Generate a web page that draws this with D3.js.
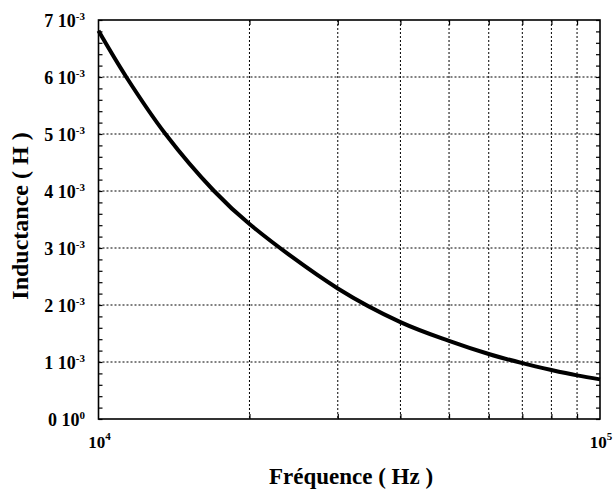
<!DOCTYPE html>
<html>
<head>
<meta charset="utf-8">
<script src="https://cdn.jsdelivr.net/npm/d3@7"></script>
<style>
  html, body { margin: 0; padding: 0; background: #fff; }
  svg { display: block; }
  text { font-family: "Liberation Serif", "Times New Roman", serif; font-weight: bold; fill: #000; }
</style>
</head>
<body>
<svg id="chart" width="613" height="492"></svg>
<script>
// ---- data ----
const frequency = [10000, 11360, 13600, 17000, 20000, 30000, 40000, 50000, 60000, 70000, 80000, 90000, 100000];
const inductance = [6.81e-3, 6.0e-3, 5.0e-3, 4.0e-3, 3.42e-3, 2.29e-3, 1.70e-3, 1.37e-3, 1.14e-3, 0.98e-3, 0.86e-3, 0.765e-3, 0.695e-3];

const yTickMantissa = [0, 1, 2, 3, 4, 5, 6, 7];
const yTickExponent = [0, -3, -3, -3, -3, -3, -3, -3];
const yTickValues = [0, 1e-3, 2e-3, 3e-3, 4e-3, 5e-3, 6e-3, 7e-3];
const yMinorValues = d3.range(0, 36).map(i => i * 0.2e-3);

const xTickBase = ["10", "10"];
const xTickExp = ["4", "5"];
const xTickValues = [1e4, 1e5];
const xGridValues = [2e4, 3e4, 4e4, 5e4, 6e4, 7e4, 8e4, 9e4];

const xTitle = "Fréquence ( Hz )";
const yTitle = "Inductance ( H )";

// ---- layout ----
const svg = d3.select("#chart");
const pLeft = 98.5, pRight = 600, pTop = 20, pBottom = 419;

const x = d3.scaleLog().domain([1e4, 1e5]).range([pLeft, pRight]);
const y = d3.scaleLinear().domain([0, 7e-3]).range([pBottom, pTop]);

// grid
const grid = svg.append("g").attr("stroke", "#000").attr("stroke-width", 1).attr("stroke-dasharray", "2,2");
grid.selectAll("line.h").data(yTickValues.filter(v => v > 0 && v < 7e-3)).join("line").attr("class", "h")
  .attr("x1", pLeft).attr("x2", pRight).attr("y1", d => y(d)).attr("y2", d => y(d));
grid.selectAll("line.v").data(xGridValues).join("line").attr("class", "v")
  .attr("y1", pTop).attr("y2", pBottom).attr("x1", d => x(d)).attr("x2", d => x(d));

// axes ticks (inward)
const axL = svg.append("g").attr("transform", `translate(${pLeft},0)`)
  .call(d3.axisLeft(y).tickValues(yMinorValues).tickSize(-4).tickFormat(""));
const axR = svg.append("g").attr("transform", `translate(${pRight},0)`)
  .call(d3.axisRight(y).tickValues(yMinorValues).tickSize(-4).tickFormat(""));
const axB = svg.append("g").attr("transform", `translate(0,${pBottom})`)
  .call(d3.axisBottom(x).tickValues(xGridValues).tickSize(-5).tickFormat(""));
const axT = svg.append("g").attr("transform", `translate(0,${pTop})`)
  .call(d3.axisTop(x).tickValues(xGridValues).tickSize(-5).tickFormat(""));
[axL, axR, axB, axT].forEach(g => {
  g.select(".domain").remove();
  g.selectAll("line").attr("stroke", "#000").attr("stroke-width", 1.2);
});

// frame
svg.append("rect").attr("x", pLeft).attr("y", pTop).attr("width", pRight - pLeft).attr("height", pBottom - pTop)
  .attr("fill", "none").attr("stroke", "#000").attr("stroke-width", 1.6);

// curve
const pts = frequency.map((f, i) => [f, inductance[i]]);
svg.append("path").datum(pts)
  .attr("fill", "none").attr("stroke", "#000").attr("stroke-width", 4).attr("stroke-linejoin", "round")
  .attr("d", d3.line().x(d => x(d[0])).y(d => y(d[1])).curve(d3.curveCatmullRom.alpha(0.5)));

// y tick labels
const yl = svg.append("g").selectAll("text").data(yTickValues).join("text")
  .attr("x", 85).attr("y", d => y(d) + 6.5).attr("text-anchor", "end").attr("font-size", 18);
yl.append("tspan").text((d, i) => yTickMantissa[i] + " 10");
yl.append("tspan").attr("dy", -7).attr("font-size", 11).text((d, i) => String(yTickExponent[i]));

// x tick labels
const xl = svg.append("g").selectAll("text").data(xTickValues).join("text")
  .attr("x", d => x(d) + 1).attr("y", 448).attr("text-anchor", "middle").attr("font-size", 17);
xl.append("tspan").text((d, i) => xTickBase[i]);
xl.append("tspan").attr("dy", -8).attr("font-size", 11).text((d, i) => xTickExp[i]);

// titles
svg.append("text").attr("x", 351).attr("y", 484).attr("text-anchor", "middle").attr("font-size", 23).text(xTitle);
svg.append("text").attr("transform", `translate(28,216) rotate(-90)`)
  .attr("text-anchor", "middle").attr("font-size", 24).text(yTitle);
</script>
</body>
</html>
